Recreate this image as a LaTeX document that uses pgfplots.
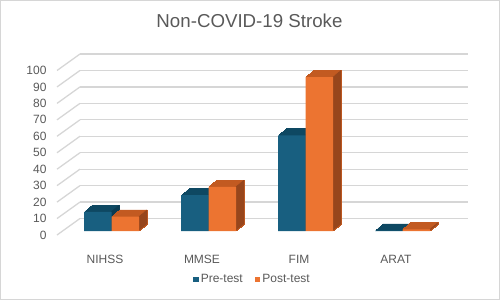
\documentclass[border=0pt]{standalone}
\usepackage{pgfplots}
\pgfplotsset{compat=1.18}
\usepackage{pgfplotstable}
\usepackage{fontspec}
\setmainfont{Liberation Sans}
\definecolor{txt}{HTML}{595959}
\definecolor{gridc}{HTML}{D6D6D6}
\definecolor{bfront}{HTML}{185F80}
\definecolor{btop}{HTML}{0E4862}
\definecolor{bside}{HTML}{0B3A50}
\definecolor{ofront}{HTML}{EC7431}
\definecolor{otop}{HTML}{C25A21}
\definecolor{oside}{HTML}{97461C}
\pgfplotstableread{
x pre post
0 11.7 8.7
1 21.8 26.8
2 58.2 93.5
3 0.3 1.0
}\data
\begin{document}
\begin{tikzpicture}
\path[use as bounding box] (0,0) rectangle (500pt,300pt);
\draw[gridc, line width=0.8pt] (0.4pt,0.4pt) rectangle (499.6pt,299.6pt);
\node[font=\fontsize{18.7}{22}\selectfont, text=txt, anchor=base] at (249.5pt,272pt) {Non-COVID-19 Stroke};
\begin{axis}[
  at={(80pt,81.5pt)}, anchor=south west,
  scale only axis, width=388pt, height=164.5pt,
  xmin=-0.5, xmax=3.5, ymin=0, ymax=100,
  clip=false,
  axis line style={draw=none},
  tick style={draw=none},
  ymajorgrids, grid style={gridc, line width=1.3pt},
  ytick={0,10,...,100},
  xtick={0,1,2,3},
  xticklabels={NIHSS,MMSE,FIM,ARAT},
  /pgf/number format/assume math mode=true,
  ticklabel style={font=\fontsize{12}{14}\selectfont, text=txt},
  yticklabel style={anchor=mid east, inner sep=0pt, xshift=-33.3pt, yshift=-18pt},
  xticklabel style={anchor=base, inner sep=0pt, xshift=-23.5pt, yshift=-44.8pt},
  legend columns=2,
  legend style={draw=none, fill=none, at={(rel axis cs:0.4446,-0.3708)}, anchor=center,
    font=\fontsize{12}{14}\selectfont, text=txt,
    /tikz/every even column/.append style={column sep=10pt}},
  legend image code/.code={\fill[#1] (15pt,9.7pt) rectangle (20.6pt,15.3pt);},
]
\pgfplotsinvokeforeach{0,10,...,100}{
  \draw[gridc, line width=1.3pt] (axis cs:-0.5,#1) -- ++(-23pt,-16.5pt);
}
% blue extrusion
\pgfplotsinvokeforeach{1,2,3,4,5,6,7,8}{
  \addplot[ybar, bar width=27.5pt, bar shift={-13.75pt+#1*1pt}, fill=btop, draw=btop, line width=0.5pt,
    xshift=-17pt, yshift={-12.5pt+#1*0.8375pt}, forget plot] table[x=x,y=pre]{\data};
}
\pgfplotsinvokeforeach{1,2,3,4,5,6,7,8}{
  \addplot[ybar, bar width=1.2pt, bar shift={0pt+(#1-0.5)*1pt}, fill=bside, draw=none,
    xshift=-17pt, yshift={-12.5pt+#1*0.8375pt}, forget plot] table[x=x,y=pre]{\data};
}
\addplot[ybar, bar width=27.5pt, bar shift=-13.75pt, fill=bfront, draw=none,
  xshift=-17pt, yshift=-12.5pt] table[x=x,y=pre]{\data};
\addlegendentry{Pre-test}
% orange extrusion
\pgfplotsinvokeforeach{1,2,3,4,5,6,7,8}{
  \addplot[ybar, bar width=27.5pt, bar shift={13.75pt+#1*1pt}, fill=otop, draw=otop, line width=0.5pt,
    xshift=-17pt, yshift={-12.5pt+#1*0.8375pt}, forget plot] table[x=x,y=post]{\data};
}
\pgfplotsinvokeforeach{1,2,3,4,5,6,7,8}{
  \addplot[ybar, bar width=1.2pt, bar shift={27.5pt+(#1-0.5)*1pt}, fill=oside, draw=none,
    xshift=-17pt, yshift={-12.5pt+#1*0.8375pt}, forget plot] table[x=x,y=post]{\data};
}
\addplot[ybar, bar width=27.5pt, bar shift=13.75pt, fill=ofront, draw=none,
  xshift=-17pt, yshift=-12.5pt] table[x=x,y=post]{\data};
\addlegendentry{Post-test}
\end{axis}
\end{tikzpicture}
\end{document}
